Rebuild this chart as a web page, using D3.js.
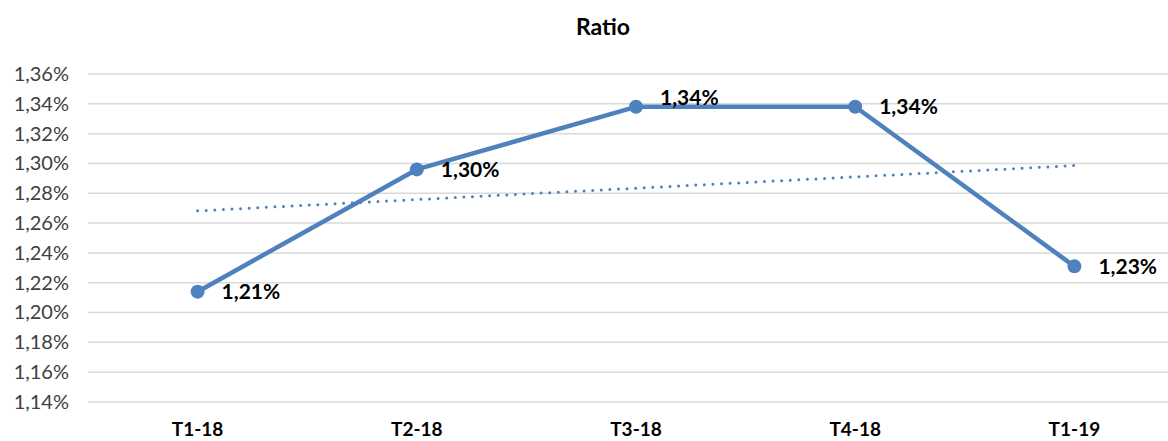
<!DOCTYPE html>
<html>
<head>
<meta charset="utf-8">
<script src="https://cdn.jsdelivr.net/npm/d3@7"></script>
<style>
  body { margin: 0; background: #fff; }
  svg { display: block; font-family: "Century Gothic", Lato, sans-serif; }
</style>
</head>
<body>
<div id="chart"></div>
<script>
// Data
var categories = ["T1-18", "T2-18", "T3-18", "T4-18", "T1-19"];
var ratios = [1.214, 1.296, 1.338, 1.338, 1.231];
var labels = ["1,21%", "1,30%", "1,34%", "1,34%", "1,23%"];
var yTicks = [1.14, 1.16, 1.18, 1.20, 1.22, 1.24, 1.26, 1.28, 1.30, 1.32, 1.34, 1.36];

// Dimensions
var W = 1168, H = 441;
var margins = {top: 74, bottom: 39, left: 88, right: -16};
var width = W - margins.left - margins.right;
var height = H - margins.top - margins.bottom;
var color = "#4f81bd";

var svg = d3.select("#chart").append("svg")
  .attr("width", W)
  .attr("height", H);

var g = svg.append("g")
  .attr("transform", "translate(" + margins.left + "," + margins.top + ")");

var x = d3.scaleBand().domain(categories).range([0, width]);
var y = d3.scaleLinear().domain([1.14, 1.36]).range([height, 0]);
var cx = function(i) { return x(categories[i]) + x.bandwidth() / 2; };

// Title
svg.append("text")
  .attr("x", 603).attr("y", 35)
  .attr("text-anchor", "middle")
  .style("font-size", "23px").style("font-weight", "bold")
  .attr("fill", "#000")
  .text("Ratio");

// Gridlines
g.selectAll(".grid").data(yTicks).enter().append("line")
  .attr("class", "grid")
  .attr("x1", 0).attr("x2", width)
  .attr("y1", function(d) { return y(d); })
  .attr("y2", function(d) { return y(d); })
  .attr("stroke", "#d9d9d9")
  .attr("stroke-width", 1.5);

// Y axis
var yAxis = d3.axisLeft(y)
  .tickValues(yTicks)
  .tickSize(0)
  .tickPadding(19)
  .tickFormat(function(d) { return d.toFixed(2).replace(".", ",") + "%"; });

g.append("g").attr("class", "yaxis").call(yAxis)
  .call(function(s) { s.select(".domain").remove(); })
  .selectAll("text")
  .style("font-size", "20px")
  .style("font-family", "\"Century Gothic\", Lato, sans-serif")
  .attr("fill", "#404040");

// X axis
var xAxis = d3.axisBottom(x).tickSize(0).tickPadding(21);
g.append("g").attr("class", "xaxis")
  .attr("transform", "translate(0," + height + ")")
  .call(xAxis)
  .call(function(s) { s.select(".domain").remove(); })
  .selectAll("text")
  .style("font-size", "19px")
  .style("font-weight", "bold")
  .style("font-family", "\"Century Gothic\", Lato, sans-serif")
  .attr("fill", "#000");

// Linear trendline (least squares, like the spreadsheet)
var n = ratios.length;
var mx = d3.mean(ratios, function(d, i) { return i; });
var my = d3.mean(ratios);
var slope = d3.sum(ratios, function(d, i) { return (i - mx) * (d - my); }) /
            d3.sum(ratios, function(d, i) { return (i - mx) * (i - mx); });
var trend = [0, n - 1].map(function(i) { return {i: i, v: my + slope * (i - mx)}; });

g.append("path")
  .datum(trend)
  .attr("fill", "none")
  .attr("stroke", color)
  .attr("stroke-width", 3)
  .attr("stroke-linecap", "round")
  .attr("stroke-dasharray", "0,8.6")
  .attr("d", d3.line()
    .x(function(d) { return cx(d.i); })
    .y(function(d) { return y(d.v); }));

// Main line
g.append("path")
  .datum(ratios)
  .attr("fill", "none")
  .attr("stroke", color)
  .attr("stroke-width", 4.5)
  .attr("stroke-linejoin", "round")
  .attr("d", d3.line()
    .x(function(d, i) { return cx(i); })
    .y(function(d) { return y(d); }));

g.selectAll(".dot").data(ratios).enter().append("circle")
  .attr("class", "dot")
  .attr("cx", function(d, i) { return cx(i); })
  .attr("cy", function(d) { return y(d); })
  .attr("r", 7)
  .attr("fill", color);

// Data labels (right of the point, the third one nudged up)
var labelDy = [0, 0, -9, 0, 0];
g.selectAll(".lbl").data(ratios).enter().append("text")
  .attr("class", "lbl")
  .attr("x", function(d, i) { return cx(i) + 24; })
  .attr("y", function(d, i) { return y(d) + labelDy[i]; })
  .attr("dy", "0.36em")
  .style("font-size", "21px")
  .style("font-weight", "bold")
  .attr("fill", "#000")
  .text(function(d, i) { return labels[i]; });
</script>
</body>
</html>
